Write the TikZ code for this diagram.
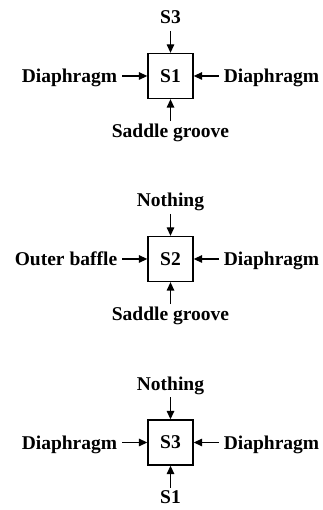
\documentclass[tikz,border=0pt]{standalone}
\usepackage{fontspec}
\setmainfont{Liberation Serif}
\usetikzlibrary{arrows.meta, positioning}

\begin{document}
\begin{tikzpicture}[
    x=1pt, y=1pt,
    node distance=22pt and 25pt,
    block/.style={rectangle, draw, line width=1.3pt, minimum size=45pt, inner sep=0pt, font=\fontsize{19.5}{22}\selectfont\bfseries},
    vlabel/.style={inner sep=3pt, text height=13pt, text depth=4pt, font=\fontsize{19.5}{22}\selectfont\bfseries},
    hlabel/.style={inner xsep=5pt, inner ysep=3pt, text height=14pt, text depth=0pt, font=\fontsize{19.5}{22}\selectfont\bfseries},
    arrow/.style={-{Triangle[length=8.5pt, width=7.5pt]}, line width=1.3pt}
]
\useasboundingbox (0,0) rectangle (323,510);

% stage S1
\node[block] (s1) at (170.5,434) {S1};
\node[vlabel, above=of s1] (s1top) {S3};
\node[hlabel, left=of s1] (s1left) {Diaphragm};
\node[hlabel, right=of s1] (s1right) {Diaphragm};
\node[vlabel, below=of s1] (s1bot) {Saddle groove};

% stage S2
\node[block] (s2) at (170.5,251) {S2};
\node[vlabel, above=of s2] (s2top) {Nothing};
\node[hlabel, left=of s2] (s2left) {Outer baffle};
\node[hlabel, right=of s2] (s2right) {Diaphragm};
\node[vlabel, below=of s2] (s2bot) {Saddle groove};

% stage S3
\node[block] (s3) at (170.5,67.5) {S3};
\node[vlabel, above=of s3] (s3top) {Nothing};
\node[hlabel, left=of s3] (s3left) {Diaphragm};
\node[hlabel, right=of s3] (s3right) {Diaphragm};
\node[vlabel, below=of s3] (s3bot) {S1};

\foreach \s in {s1,s2,s3} {
    \draw[arrow] (\s top) -- (\s);
    \draw[arrow] (\s left) -- (\s);
    \draw[arrow] (\s right) -- (\s);
    \draw[arrow] (\s bot) -- (\s);
}

\end{tikzpicture}
\end{document}
